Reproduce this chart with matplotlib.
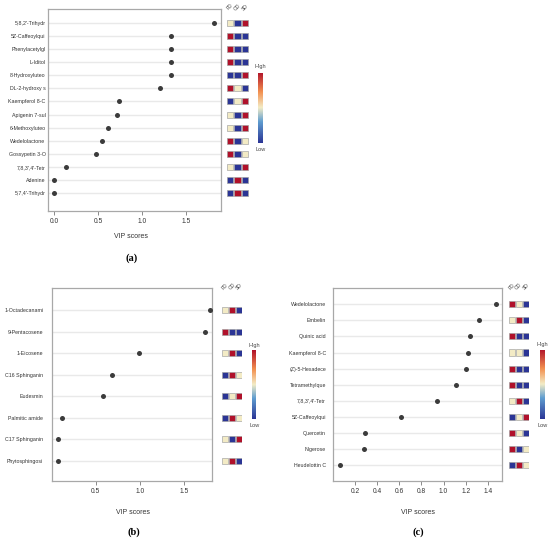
import matplotlib
matplotlib.use("Agg")
import matplotlib.pyplot as plt
import numpy as np
from matplotlib.colors import LinearSegmentedColormap, Normalize

plt.rcParams['font.family'] = ['Liberation Sans', 'DejaVu Sans']

# ---------------- data ----------------
groups = ["FD", "OD", "SD"]

a_names = ["5,8,2'-Trihydr", "5Z-Caffeoylqui", "Phenylacetylgl", "L-Iditol",
           "8-Hydroxyluteo", "DL-2-hydroxy s", "Kaempferol 8-C", "Apigenin 7-sul",
           "6-Methoxyluteo", "Wedelolactone", "Gossypetin 3-O", "7,8,3',4'-Tetr",
           "Adenine", "5,7,4'-Trihydr"]
a_vip = [1.82, 1.33, 1.33, 1.33, 1.33, 1.21, 0.74, 0.72, 0.61, 0.55, 0.48, 0.14, 0.0, 0.0]
a_heat = [[0, -1, 1], [1, -1, -1], [1, -1, -1], [1, -1, -1], [-1, -1, 1],
          [1, 0, -1], [-1, 0, 1], [0, -1, 1], [0, -1, 1], [1, -1, 0],
          [1, -1, 0], [0, -1, 1], [-1, 1, -1], [-1, 1, -1]]
a_ticks = [0.0, 0.5, 1.0, 1.5]

b_names = ["1-Octadecanami", "9-Pentacosene", "1-Eicosene", "C16 Sphinganin",
           "Eudesmin", "Palmitic amide", "C17 Sphinganin", "Phytosphingosi"]
b_vip = [1.79, 1.73, 0.99, 0.68, 0.58, 0.12, 0.07, 0.07]
b_heat = [[0, 1, -1], [1, -1, -1], [0, 1, -1], [-1, 1, 0], [-1, 0, 1],
          [-1, 1, 0], [0, -1, 1], [0, 1, -1]]
b_ticks = [0.5, 1.0, 1.5]

c_names = ["Wedelolactone", "Embelin", "Quinic acid", "Kaempferol 8-C",
           "(Z)-5-Hexadece", "Tetramethylque", "7,8,3',4'-Tetr", "5Z-Caffeoylqui",
           "Quercetin", "Nigerose", "Heudelottin C"]
c_vip = [1.476, 1.32, 1.24, 1.217, 1.20, 1.11, 0.94, 0.62, 0.29, 0.28, 0.065]
c_heat = [[1, 0, -1], [0, 1, -1], [1, -1, -1], [0, 0, -1], [1, -1, -1],
          [1, -1, -1], [0, 1, -1], [-1, 0, 1], [1, 0, -1], [1, -1, 0], [-1, 1, 0]]
c_ticks = [0.2, 0.4, 0.6, 0.8, 1.0, 1.2, 1.4]

# ---------------- style ----------------
W, H = 550, 540
fig = plt.figure(figsize=(W / 100, H / 100), dpi=100)
fig.patch.set_facecolor("white")

cmap = LinearSegmentedColormap.from_list(
    "vip", [(0.0, "#2b3595"), (0.3, "#5f9dd0"), (0.5, "#f3ecc6"),
            (0.72, "#f39150"), (1.0, "#b0112a")])
norm = Normalize(-1, 1)

def rect(x0, y0, x1, y1):
    return [x0 / W, 1 - y1 / H, (x1 - x0) / W, (y1 - y0) / H]

def panel(names, vip, heat, ticks, box, xlim, ylim, hm_x, hdr_y, cb_box, cb_x,
          hi_y, lo_y, lab_x, vip_y, letter, letter_y, ypad):
    x0, y0, x1, y1 = box
    ax = fig.add_axes(rect(x0, y0, x1, y1))
    n = len(names)
    ypos = np.arange(n)
    for yy in ypos:
        ax.axhline(yy, color="#e9e9e9", lw=1.0, zorder=0)
    ax.scatter(vip, ypos, s=13, color="#3b3b3b", zorder=3, linewidths=0)
    ax.set_xlim(*xlim)
    ax.set_ylim(*ylim)
    ax.set_yticks(ypos)
    ax.set_yticklabels(names, fontsize=3.8, color="#333333")
    ax.tick_params(axis="y", length=0, pad=ypad)
    ax.set_xticks(ticks)
    ax.set_xticklabels([f"{t:.1f}" for t in ticks], fontsize=4.8, color="#333333")
    ax.tick_params(axis="x", length=2.8, width=0.6, color="#777777", pad=2)
    for sp in ax.spines.values():
        sp.set_color("#a8a8a8")
        sp.set_linewidth(0.9)

    # heatmap squares
    hx0, hx1 = hm_x
    hax = fig.add_axes(rect(hx0, y0, hx1, y1))
    hax.set_xlim(-0.5, 2.5)
    hax.set_ylim(*ylim)
    hax.axis("off")
    hv = np.array(heat, dtype=float)
    cols, rows = np.meshgrid(np.arange(3), ypos)
    hax.scatter(cols.ravel(), rows.ravel(), c=hv.ravel(), cmap=cmap, norm=norm,
                marker="s", s=19, edgecolors="#a0a0a0", linewidths=0.45, zorder=3)
    for j, g in enumerate(groups):
        hax.text(j, hdr_y, g, rotation=45, ha="center", va="center",
                 fontsize=3.6, color="#444444", clip_on=False)

    # colour bar
    cax = fig.add_axes(rect(*cb_box))
    grad = np.linspace(-1, 1, 256).reshape(-1, 1)
    cax.imshow(grad, cmap=cmap, norm=norm, aspect="auto", origin="lower")
    cax.axis("off")
    fig.text(cb_x / W, 1 - hi_y / H, "High", ha="center", va="center",
             fontsize=4, color="#444444")
    fig.text(cb_x / W, 1 - lo_y / H, "Low", ha="center", va="center",
             fontsize=4, color="#444444")

    fig.text(lab_x / W, 1 - vip_y / H, "VIP scores", ha="center", va="center",
             fontsize=5, color="#333333")
    fig.text(lab_x / W, 1 - letter_y / H, letter, ha="center", va="center",
             fontsize=7.5, fontweight="bold", family="Liberation Serif")

panel(a_names, a_vip, a_heat, a_ticks,
      box=(48, 9, 221, 211), xlim=(-0.068, 1.902), ylim=(14.376, -1.071),
      hm_x=(226.3, 248.7), hdr_y=-1.22,
      cb_box=(258.3, 72.7, 263.0, 143.3), cb_x=260.7, hi_y=66.7, lo_y=149.3,
      lab_x=131.5, vip_y=237, letter="(a)", letter_y=258, ypad=1.8)

panel(b_names, b_vip, b_heat, b_ticks,
      box=(51.7, 288.3, 212.3, 481), xlim=(0.004, 1.816), ylim=(7.943, -1.008),
      hm_x=(221.5, 242.2), hdr_y=-1.11,
      cb_box=(252.2, 350, 256.2, 419), cb_x=254.2, hi_y=345, lo_y=425.7,
      lab_x=133.5, vip_y=512, letter="(b)", letter_y=532, ypad=6)

panel(c_names, c_vip, c_heat, c_ticks,
      box=(333.3, 288.3, 502.3, 481), xlim=(0.0045, 1.53), ylim=(10.996, -0.996),
      hm_x=(508.2, 529.2), hdr_y=-1.11,
      cb_box=(539.5, 350, 544.2, 419.3), cb_x=542.5, hi_y=344.5, lo_y=425.3,
      lab_x=418, vip_y=512, letter="(c)", letter_y=532, ypad=5.3)

fig.savefig("out.png", dpi=100, facecolor="white")
